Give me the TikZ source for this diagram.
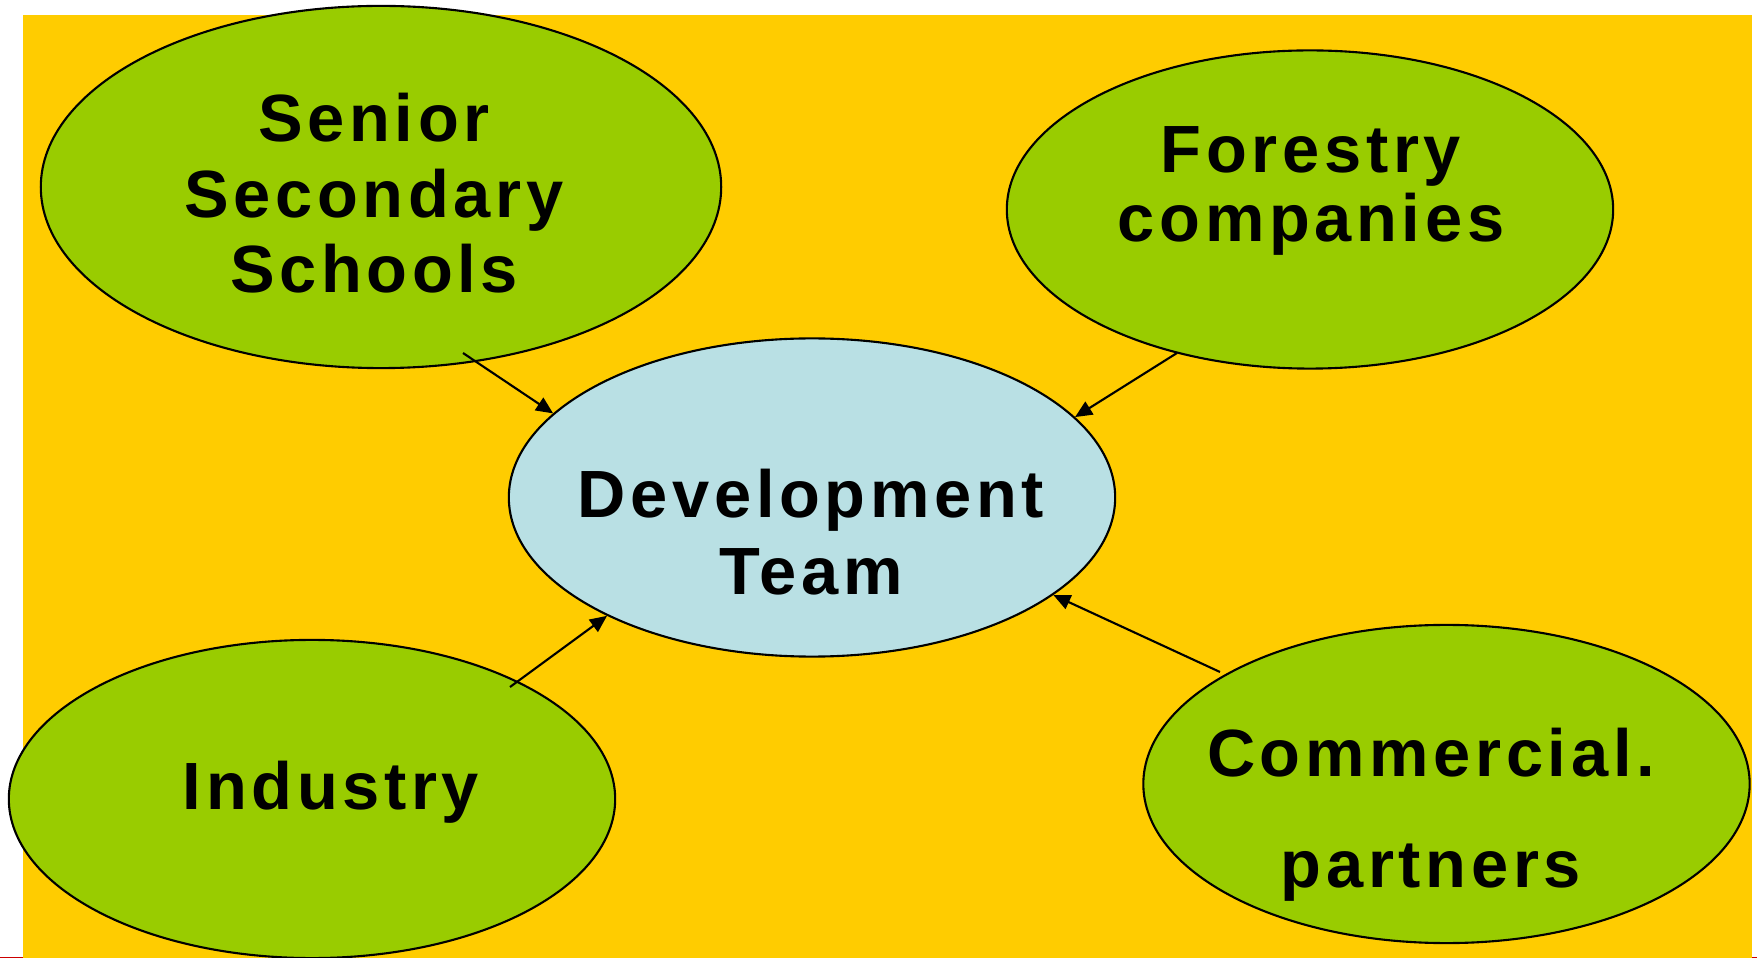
\documentclass[tikz,border=0pt]{standalone}
\usepackage{fontspec}
\newfontfamily\lblfont[LetterSpace=7]{Liberation Sans}
\usetikzlibrary{shapes.geometric,arrows.meta}
\definecolor{bgyellow}{RGB}{255,204,0}
\definecolor{leafgreen}{RGB}{153,204,0}
\definecolor{teamblue}{RGB}{185,224,228}
\definecolor{edgered}{RGB}{204,0,0}
\tikzset{
  partner/.style={ellipse, draw=black, line width=0.6pt, fill=leafgreen, inner sep=0pt},
  team/.style={ellipse, draw=black, line width=0.6pt, fill=teamblue, inner sep=0pt},
  lbl/.style={align=center, anchor=base, inner sep=0pt, font=\lblfont\bfseries\fontsize{19pt}{21.5pt}\selectfont},
  link/.style={line width=0.6pt, -{Triangle[length=0.17cm,width=0.15cm]}}
}
\begin{document}
\begin{tikzpicture}[x=0.01cm, y=-0.01cm]
\useasboundingbox (0,0) rectangle (1757,958);
\fill[white] (0,0) rectangle (1757,958);
\draw[edgered, line width=0.4pt] (0,957.5) -- (1757,957.5);
\fill[bgyellow] (23,15) rectangle (1752,958);

\node[partner, minimum width=6.80cm, minimum height=3.62cm] (senior) at (381,187) {};
\node[partner, minimum width=6.06cm, minimum height=3.18cm] (forest) at (1310,209.5) {};
\node[team,    minimum width=6.06cm, minimum height=3.18cm] (dev) at (812,497.5) {};
\node[partner, minimum width=6.06cm, minimum height=3.18cm] (industry) at (312,799) {};
\node[partner, minimum width=6.06cm, minimum height=3.18cm] (commerce) at (1446.5,784) {};

\node[lbl, font=\lblfont\bfseries\fontsize{19pt}{21.5pt}\selectfont] (seniortxt) at (374,293) {Senior\\Secondary\\Schools};
\node[lbl, font=\lblfont\bfseries\fontsize{19pt}{19.9pt}\selectfont] (foresttxt) at (1311,242) {Forestry\\companies};
\node[lbl, font=\lblfont\bfseries\fontsize{19pt}{21.9pt}\selectfont] (devtxt) at (811,595) {Development\\Team};
\node[lbl] (industrytxt) at (331,809) {Industry};
\node[lbl, font=\lblfont\bfseries\fontsize{19pt}{31.3pt}\selectfont] (commercetxt) at (1431,887) {Commercial.\\partners};

\coordinate (s1) at (463,353);
\coordinate (s2) at (510,687);
\coordinate (s3) at (1177,353);
\coordinate (s4) at (1220,672);
\draw[link] (s1) -- (dev.162);
\draw[link] (s2) -- (dev.210);
\draw[link] (s3) -- (dev.17);
\draw[link] (s4) -- (dev.338);
\end{tikzpicture}
\end{document}
